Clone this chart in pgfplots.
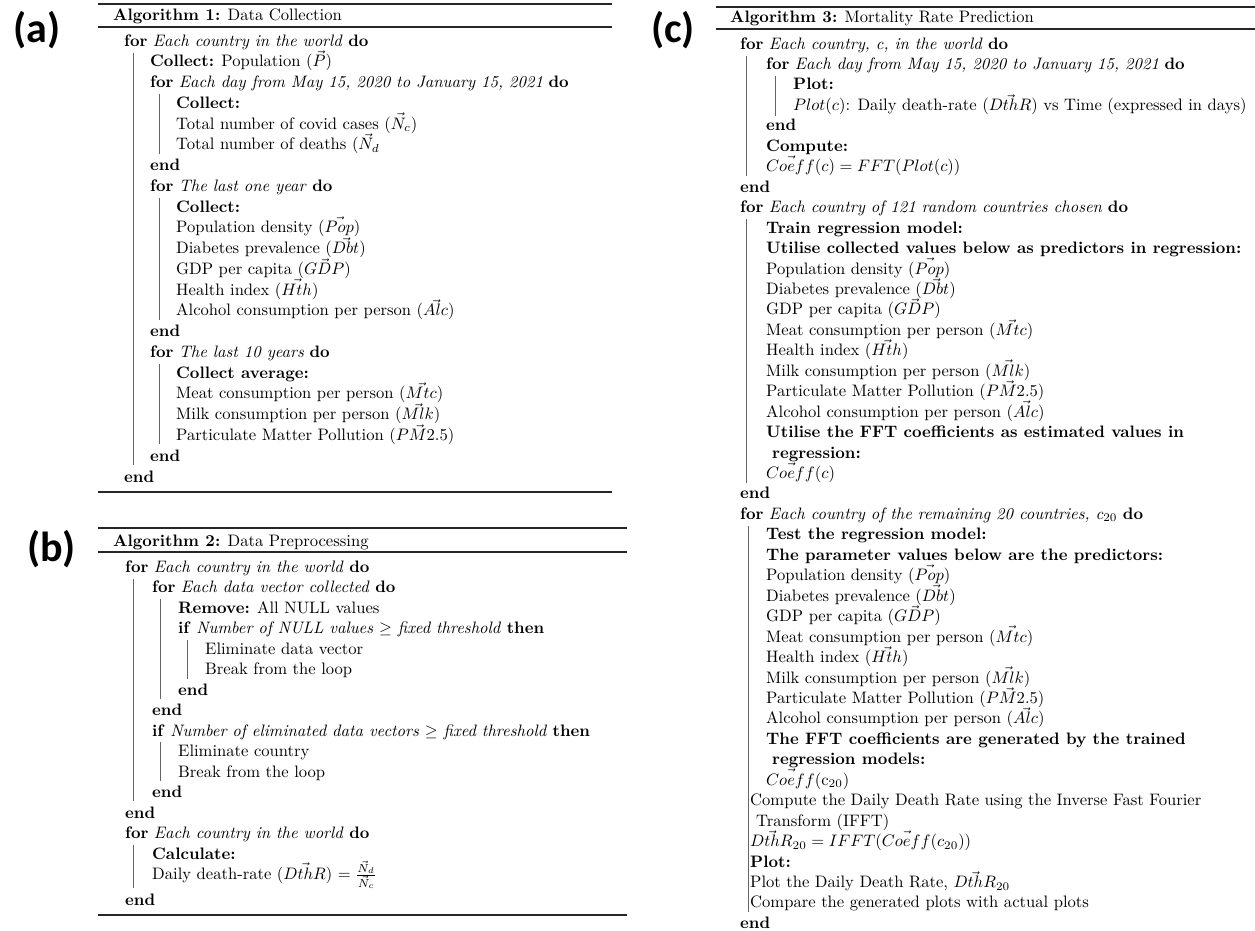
\documentclass[border=0pt]{standalone}
\usepackage{graphicx}
\usepackage{pgfplots}
\pgfplotsset{compat=1.18}
\usepackage{fontspec}
\newfontfamily\lab{Carlito}

% one text line of an algorithm box: x, baseline y, text
\newcommand{\T}[3]{\node[anchor=base west,inner sep=0pt] at (axis cs:#1,#2) {\scalebox{1.66}{#3}};}
\newcommand{\kw}[1]{\textbf{#1}}

\begin{document}
\begin{tikzpicture}[
  lbl/.style={anchor=base west,inner sep=0pt,font=\lab\bfseries\fontsize{42}{42}\selectfont},
  rule/.style={black!85,line width=1.6pt},
  midrule/.style={black!85,line width=1.1pt},
  bar/.style={black!60,line width=0.9pt}]
\begin{axis}[width=1255pt,height=930pt,scale only axis,
  xmin=0,xmax=1255,ymin=0,ymax=930,y dir=reverse,
  hide axis,clip=false]
\coordinate (BL) at (axis cs:0,930);
\coordinate (TR) at (axis cs:1255,0);

% ---------------- (a) ----------------
\node[lbl] at (axis cs:13,42) {(a)};
\addplot[rule,forget plot] coordinates {(98,4) (612,4)};
\addplot[midrule,forget plot] coordinates {(98,27) (612,27)};
\addplot[rule,forget plot] coordinates {(98,492) (612,492)};
\addplot[bar,forget plot] coordinates {(133,53) (133,465)};
\addplot[bar,forget plot] coordinates {(159,94) (159,154)};
\addplot[bar,forget plot] coordinates {(159,198) (159,320)};
\addplot[bar,forget plot] coordinates {(159,364) (159,444)};
\T{113}{20}{\kw{Algorithm 1:} Data Collection}
\T{124}{46.0}{\kw{for} \textit{Each country in the world} \kw{do}}
\T{150}{66.8}{\kw{Collect:} Population ($\vec{P}$)}
\T{150}{87.5}{\kw{for} \textit{Each day from May 15, 2020 to January 15, 2021} \kw{do}}
\T{176}{108.3}{\kw{Collect:}}
\T{176}{129.0}{Total number of covid cases ($\vec{N}_c$)}
\T{176}{149.8}{Total number of deaths ($\vec{N}_d$}
\T{150}{170.6}{\kw{end}}
\T{150}{191.3}{\kw{for} \textit{The last one year} \kw{do}}
\T{176}{212.1}{\kw{Collect:}}
\T{176}{232.8}{Population density ($\vec{Pop}$)}
\T{176}{253.6}{Diabetes prevalence ($\vec{Dbt}$)}
\T{176}{274.4}{GDP per capita ($\vec{GDP}$)}
\T{176}{295.1}{Health index ($\vec{Hth}$)}
\T{176}{315.9}{Alcohol consumption per person ($\vec{Alc}$)}
\T{150}{336.6}{\kw{end}}
\T{150}{357.4}{\kw{for} \textit{The last 10 years} \kw{do}}
\T{176}{378.2}{\kw{Collect average:}}
\T{176}{398.9}{Meat consumption per person ($\vec{Mtc}$)}
\T{176}{419.7}{Milk consumption per person ($\vec{Mlk}$)}
\T{176}{440.4}{Particulate Matter Pollution ($P\vec{M}2.5$)}
\T{150}{461.2}{\kw{end}}
\T{124}{482.0}{\kw{end}}

% ---------------- (b) ----------------
\node[lbl] at (axis cs:27,561) {(b)};
\addplot[rule,forget plot] coordinates {(98,528) (627,528)};
\addplot[midrule,forget plot] coordinates {(98,552) (627,552)};
\addplot[rule,forget plot] coordinates {(98,915) (627,915)};
\addplot[bar,forget plot] coordinates {(133,579) (133,801)};
\addplot[bar,forget plot] coordinates {(160,599) (160,699)};
\addplot[bar,forget plot] coordinates {(187,640) (187,679)};
\addplot[bar,forget plot] coordinates {(160,742) (160,781)};
\addplot[bar,forget plot] coordinates {(133,845) (133,888)};
\T{113}{546}{\kw{Algorithm 2:} Data Preprocessing}
\T{125}{572}{\kw{for} \textit{Each country in the world} \kw{do}}
\T{152}{592.5}{\kw{for} \textit{Each data vector collected} \kw{do}}
\T{178}{613}{\kw{Remove:} All NULL values}
\T{178}{633.5}{\kw{if} \textit{Number of NULL values $\geq$ fixed threshold} \kw{then}}
\T{205}{654}{Eliminate data vector}
\T{205}{674.5}{Break from the loop}
\T{178}{695}{\kw{end}}
\T{152}{715.5}{\kw{end}}
\T{152}{736}{\kw{if} \textit{Number of eliminated data vectors $\geq$ fixed threshold} \kw{then}}
\T{178}{756.5}{Eliminate country}
\T{178}{777}{Break from the loop}
\T{152}{797.5}{\kw{end}}
\T{125}{818}{\kw{end}}
\T{125}{838.5}{\kw{for} \textit{Each country in the world} \kw{do}}
\T{152}{859}{\kw{Calculate:}}
\T{152}{879}{Daily death-rate ($\vec{DthR}$) $= \frac{\vec{N}_d}{\vec{N}_c}$}
\T{125}{905}{\kw{end}}

% ---------------- (c) ----------------
\node[lbl] at (axis cs:651,42) {(c)};
\addplot[rule,forget plot] coordinates {(716,7) (1255,7)};
\addplot[midrule,forget plot] coordinates {(716,29) (1255,29)};
\addplot[bar,forget plot] coordinates {(746,56) (746,176)};
\addplot[bar,forget plot] coordinates {(775,76) (775,116)};
\addplot[bar,forget plot] coordinates {(746,219) (746,483)};
\addplot[bar,forget plot] coordinates {(748,526) (748,912)};
\T{730}{22}{\kw{Algorithm 3:} Mortality Rate Prediction}
\T{740}{49.0}{\kw{for} \textit{Each country, c, in the world} \kw{do}}
\T{766}{69.5}{\kw{for} \textit{Each day from May 15, 2020 to January 15, 2021} \kw{do}}
\T{793}{89.9}{\kw{Plot:}}
\T{793}{110.4}{$Plot(c)$: Daily death-rate ($\vec{DthR}$) vs Time (expressed in days)}
\T{766}{130.8}{\kw{end}}
\T{766}{151.3}{\kw{Compute:}}
\T{766}{171.7}{$\vec{Coeff}(c) = FFT(Plot(c))$}
\T{740}{192.2}{\kw{end}}
\T{740}{212.6}{\kw{for} \textit{Each country of 121 random countries chosen} \kw{do}}
\T{766}{233.1}{\kw{Train regression model:}}
\T{766}{253.5}{\kw{Utilise collected values below as predictors in regression:}}
\T{766}{274.0}{Population density ($\vec{Pop}$)}
\T{766}{294.4}{Diabetes prevalence ($\vec{Dbt}$)}
\T{766}{314.9}{GDP per capita ($\vec{GDP}$)}
\T{766}{335.3}{Meat consumption per person ($\vec{Mtc}$)}
\T{766}{355.8}{Health index ($\vec{Hth}$)}
\T{766}{376.2}{Milk consumption per person ($\vec{Mlk}$)}
\T{766}{396.7}{Particulate Matter Pollution ($P\vec{M}2.5$)}
\T{766}{417.1}{Alcohol consumption per person ($\vec{Alc}$)}
\T{766}{437.6}{\kw{Utilise the FFT coefficients as estimated values in}}
\T{772}{458.0}{\kw{regression:}}
\T{766}{478.5}{$\vec{Coeff}(c)$}
\T{740}{498.9}{\kw{end}}
\T{740}{519.4}{\kw{for} \textit{Each country of the remaining 20 countries, c$_{20}$} \kw{do}}
\T{766}{539.8}{\kw{Test the regression model:}}
\T{766}{560.3}{\kw{The parameter values below are the predictors:}}
\T{766}{580.7}{Population density ($\vec{Pop}$)}
\T{766}{601.2}{Diabetes prevalence ($\vec{Dbt}$)}
\T{766}{621.6}{GDP per capita ($\vec{GDP}$)}
\T{766}{642.1}{Meat consumption per person ($\vec{Mtc}$)}
\T{766}{662.5}{Health index ($\vec{Hth}$)}
\T{766}{683.0}{Milk consumption per person ($\vec{Mlk}$)}
\T{766}{703.4}{Particulate Matter Pollution ($P\vec{M}2.5$)}
\T{766}{723.9}{Alcohol consumption per person ($\vec{Alc}$)}
\T{766}{744.3}{\kw{The FFT coefficients are generated by the trained}}
\T{772}{764.8}{\kw{regression models:}}
\T{766}{785.2}{$\vec{Coeff}(\mathrm{c}_{20})$}
\T{750}{805.7}{Compute the Daily Death Rate using the Inverse Fast Fourier}
\T{756}{826.1}{Transform (IFFT)}
\T{750}{846.6}{$\vec{DthR}_{20} = IFFT(\vec{Coeff}(c_{20}))$}
\T{750}{867.0}{\kw{Plot:}}
\T{750}{887.5}{Plot the Daily Death Rate, $\vec{DthR}_{20}$}
\T{750}{907.9}{Compare the generated plots with actual plots}
\T{740}{928.4}{\kw{end}}
\end{axis}
\pgfresetboundingbox
\path[use as bounding box] (BL) rectangle (TR);
\end{tikzpicture}
\end{document}
